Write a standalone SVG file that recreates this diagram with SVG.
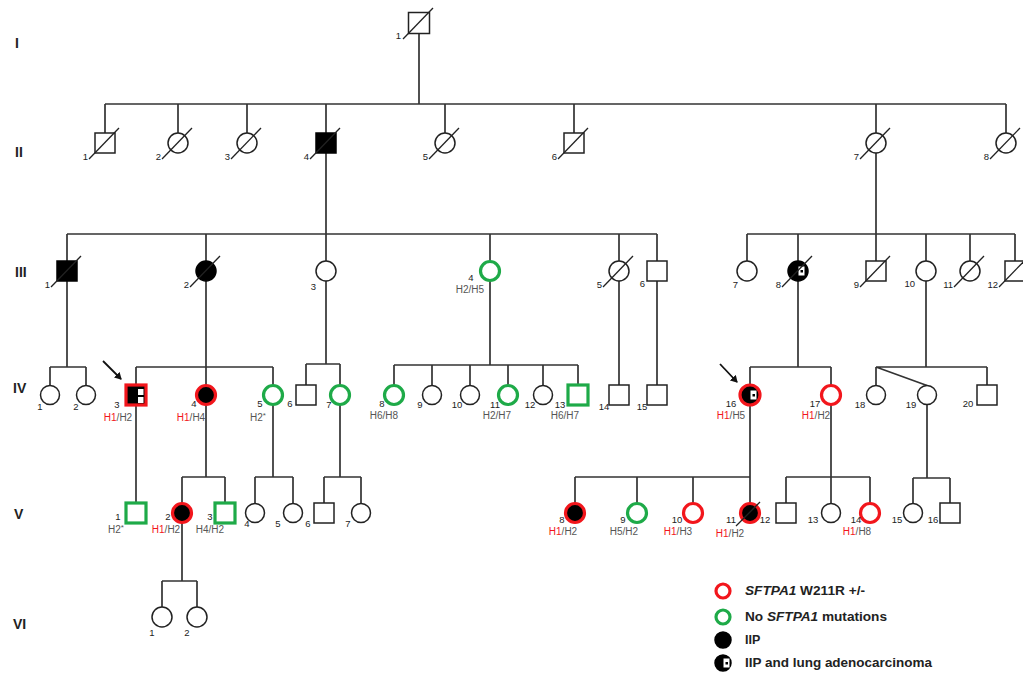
<svg xmlns="http://www.w3.org/2000/svg" width="1023" height="677" viewBox="0 0 1023 677">
<style>
.ln{stroke:#333;stroke-width:1.7;fill:none}
.s{fill:#fff;stroke:#222;stroke-width:1.5}
.a{fill:#000;stroke:#000;stroke-width:1.5}
.r{stroke:#f2161c;stroke-width:3.2}
.g{stroke:#1eaa48;stroke-width:3.2}
.d{stroke:#222;stroke-width:1.3}
text{font-family:"Liberation Sans",Arial,sans-serif}
.n{font-size:9.5px;fill:#222}
.h{font-size:10px;fill:#555;text-anchor:middle}
.h1{fill:#f2161c}
.gen{font-size:14px;font-weight:bold;fill:#222}
.lg{font-size:12.5px;font-weight:bold;fill:#222}
.c{text-anchor:middle}
.e{text-anchor:end}
</style>
<defs>
<marker id="ah" markerWidth="8" markerHeight="8" refX="6" refY="4" orient="auto" markerUnits="userSpaceOnUse">
<path d="M0,0 L7,4 L0,8 Z" fill="#111"/>
</marker>
<g id="lm"><rect x="0.5" y="-4.5" width="6" height="9" fill="#fff"/><rect x="2.5" y="-1" width="2.5" height="2.5" fill="#000"/></g>
</defs>
<rect width="1023" height="677" fill="#fff"/>

<g id="generations">
<text class="gen" x="15" y="48">I</text>
<text class="gen" x="15" y="157">II</text>
<text class="gen" x="15" y="277">III</text>
<text class="gen" x="13" y="393">IV</text>
<text class="gen" x="14" y="519">V</text>
<text class="gen" x="13" y="629">VI</text>
</g>

<g id="connectors" class="ln">
<path d="M419 33.5V104 M105 104H1006 M105 104V133 M178 104V133 M247 104V133 M326 104V133 M445 104V133 M574 104V133 M876 104V133 M1006 104V133"/>
<path d="M326 153V234 M67 234H657 M67 234V261 M206 234V261 M326 234V261 M490 234V261 M619 234V261 M657 234V261"/>
<path d="M876 153V234 M747 234H1015 M747 234V261 M798 234V261 M876 234V261 M926 234V261 M970 234V261 M1015 234V261"/>
<path d="M67 281V367 M50 367H86 M50 367V385.5 M86 367V385.5"/>
<path d="M206 281V385 M136 367H273 M136 367V385 M273 367V385.5"/>
<path d="M326 281V364 M306 364H340 M306 364V385 M340 364V385.5"/>
<path d="M490 281V365 M394 365H578 M394 365V385.5 M432 365V385.5 M470 365V385.5 M508 365V385.5 M543 365V385.5 M578 365V385"/>
<path d="M619 281V385 M657 281V385"/>
<path d="M798 281V367 M750 367H831 M750 367V385 M831 367V385"/>
<path d="M926 281V367 M876 367H987 M876 367V385.5 M987 367V385 M876 367L927 385.5"/>
<path d="M136 405V503"/>
<path d="M206 404.5V477 M182 477H225 M182 477V503 M225 477V503"/>
<path d="M273 404.5V477 M255 477H293 M255 477V503.5 M293 477V503.5"/>
<path d="M340 404.5V477 M324 477H361 M324 477V503 M361 477V503.5"/>
<path d="M750 405V503 M575 477H750 M575 477V503 M637 477V503 M693 477V503"/>
<path d="M831 404.5V503 M786 477H870 M786 477V503 M870 477V503"/>
<path d="M927 404.5V478 M913 478H950 M913 478V503.5 M950 478V503"/>
<path d="M182 523V581 M162 581H197 M162 581V607 M197 581V607"/>
<line x1="103" y1="361" x2="121" y2="379" stroke="#111" stroke-width="1.8" marker-end="url(#ah)"/>
<line x1="720" y1="364" x2="737" y2="382" stroke="#111" stroke-width="1.8" marker-end="url(#ah)"/>
</g>

<g id="I-1"><rect class="s" x="408.5" y="12.5" width="21" height="21"/><line class="d" x1="403" y1="39" x2="433" y2="8"/><text class="n e" x="401" y="39">1</text></g>

<g id="II-1"><rect class="s" x="95" y="133" width="20" height="20"/><line class="d" x1="89" y1="159" x2="119" y2="128"/><text class="n e" x="88" y="160">1</text></g>
<g id="II-2"><circle class="s" cx="178" cy="143" r="10"/><line class="d" x1="162" y1="159" x2="192" y2="128"/><text class="n e" x="161" y="160">2</text></g>
<g id="II-3"><circle class="s" cx="247" cy="143" r="10"/><line class="d" x1="231" y1="159" x2="261" y2="128"/><text class="n e" x="230" y="160">3</text></g>
<g id="II-4"><rect class="a" x="316" y="133" width="20" height="20"/><line class="d" x1="310" y1="159" x2="340" y2="128"/><text class="n e" x="309" y="160">4</text></g>
<g id="II-5"><circle class="s" cx="445" cy="143" r="10"/><line class="d" x1="429" y1="159" x2="459" y2="128"/><text class="n e" x="428" y="160">5</text></g>
<g id="II-6"><rect class="s" x="564" y="133" width="20" height="20"/><line class="d" x1="558" y1="159" x2="588" y2="128"/><text class="n e" x="557" y="160">6</text></g>
<g id="II-7"><circle class="s" cx="876" cy="143" r="10"/><line class="d" x1="860" y1="159" x2="890" y2="128"/><text class="n e" x="859" y="160">7</text></g>
<g id="II-8"><circle class="s" cx="1006" cy="143" r="10"/><line class="d" x1="990" y1="159" x2="1020" y2="128"/><text class="n e" x="989" y="160">8</text></g>

<g id="III-1"><rect class="a" x="57" y="261" width="20" height="20"/><line class="d" x1="51" y1="287" x2="81" y2="256"/><text class="n e" x="50" y="288">1</text></g>
<g id="III-2"><circle class="a" cx="206" cy="271" r="10"/><line class="d" x1="190" y1="287" x2="220" y2="256"/><text class="n e" x="189" y="288">2</text></g>
<g id="III-3"><circle class="s" cx="326" cy="271" r="10"/><text class="n e" x="316" y="290">3</text></g>
<g id="III-4"><circle class="s g" cx="490" cy="271" r="9.5"/><text class="n c" x="471" y="281">4</text><text class="h" x="470" y="293">H2/H5</text></g>
<g id="III-5"><circle class="s" cx="619" cy="271" r="10"/><line class="d" x1="603" y1="287" x2="633" y2="256"/><text class="n e" x="602" y="288">5</text></g>
<g id="III-6"><rect class="s" x="647" y="261" width="20" height="20"/><text class="n e" x="645" y="287">6</text></g>
<g id="III-7"><circle class="s" cx="747" cy="271" r="10"/><text class="n e" x="738" y="288">7</text></g>
<g id="III-8"><circle class="a" cx="798" cy="271" r="10"/><use href="#lm" x="798" y="271"/><line class="d" x1="782" y1="287" x2="812" y2="256"/><text class="n e" x="781" y="288">8</text></g>
<g id="III-9"><rect class="s" x="866" y="261" width="20" height="20"/><line class="d" x1="860" y1="287" x2="890" y2="256"/><text class="n e" x="859" y="288">9</text></g>
<g id="III-10"><circle class="s" cx="926" cy="271" r="10"/><text class="n e" x="915" y="287">10</text></g>
<g id="III-11"><circle class="s" cx="970" cy="271" r="10"/><line class="d" x1="954" y1="287" x2="984" y2="256"/><text class="n e" x="953" y="288">11</text></g>
<g id="III-12"><rect class="s" x="1005" y="261" width="20" height="20"/><line class="d" x1="999" y1="287" x2="1029" y2="256"/><text class="n e" x="998" y="288">12</text></g>

<g id="IV-1"><circle class="s" cx="50" cy="395" r="9.5"/><text class="n c" x="40" y="410">1</text></g>
<g id="IV-2"><circle class="s" cx="86" cy="395" r="9.5"/><text class="n c" x="76" y="410">2</text></g>
<g id="IV-3"><rect class="a r" x="126" y="385" width="20" height="20"/><rect x="138" y="389" width="5.5" height="6" fill="#fff"/><rect x="138" y="397" width="5.5" height="6" fill="#fff"/><text class="n c" x="117" y="408">3</text><text class="h" x="118" y="421"><tspan class="h1">H1</tspan>/H2</text></g>
<g id="IV-4"><circle class="a r" cx="206" cy="395" r="9.5"/><text class="n c" x="194" y="407">4</text><text class="h" x="191" y="421"><tspan class="h1">H1</tspan>/H4</text></g>
<g id="IV-5"><circle class="s g" cx="273" cy="395" r="9.5"/><text class="n c" x="260" y="407">5</text><text class="h" x="258" y="421">H2<tspan font-size="8" dy="-3">*</tspan></text></g>
<g id="IV-6"><rect class="s" x="296" y="385" width="20" height="20"/><text class="n c" x="290" y="407">6</text></g>
<g id="IV-7"><circle class="s g" cx="340" cy="395" r="9.5"/><text class="n c" x="329" y="408">7</text></g>
<g id="IV-8"><circle class="s g" cx="394" cy="395" r="9.5"/><text class="n c" x="382" y="407">8</text><text class="h" x="384" y="419">H6/H8</text></g>
<g id="IV-9"><circle class="s" cx="432" cy="395" r="9.5"/><text class="n c" x="420" y="408">9</text></g>
<g id="IV-10"><circle class="s" cx="470" cy="395" r="9.5"/><text class="n c" x="457" y="408">10</text></g>
<g id="IV-11"><circle class="s g" cx="508" cy="395" r="9.5"/><text class="n c" x="495" y="408">11</text><text class="h" x="497" y="419">H2/H7</text></g>
<g id="IV-12"><circle class="s" cx="543" cy="395" r="9.5"/><text class="n c" x="530" y="408">12</text></g>
<g id="IV-13"><rect class="s g" x="568" y="385" width="20" height="20"/><text class="n c" x="560" y="408">13</text><text class="h" x="565" y="419">H6/H7</text></g>
<g id="IV-14"><rect class="s" x="609" y="385" width="20" height="20"/><text class="n c" x="604" y="410">14</text></g>
<g id="IV-15"><rect class="s" x="647" y="385" width="20" height="20"/><text class="n c" x="642" y="410">15</text></g>
<g id="IV-16"><circle class="a r" cx="750" cy="395" r="10"/><use href="#lm" x="750" y="395"/><text class="n c" x="731" y="407">16</text><text class="h" x="731" y="419"><tspan class="h1">H1</tspan>/H5</text></g>
<g id="IV-17"><circle class="s r" cx="831" cy="395" r="9.5"/><text class="n c" x="815" y="407">17</text><text class="h" x="816" y="419"><tspan class="h1">H1</tspan>/H2</text></g>
<g id="IV-18"><circle class="s" cx="876" cy="395" r="9.5"/><text class="n c" x="860" y="408">18</text></g>
<g id="IV-19"><circle class="s" cx="927" cy="395" r="9.5"/><text class="n c" x="911" y="408">19</text></g>
<g id="IV-20"><rect class="s" x="977" y="385" width="20" height="20"/><text class="n c" x="968" y="407">20</text></g>

<g id="V-1"><rect class="s g" x="126" y="503" width="20" height="20"/><text class="n c" x="118" y="520">1</text><text class="h" x="116" y="533">H2<tspan font-size="8" dy="-3">*</tspan></text></g>
<g id="V-2"><circle class="a r" cx="182" cy="513" r="9.5"/><text class="n c" x="168" y="520">2</text><text class="h" x="166" y="533"><tspan class="h1">H1</tspan>/H2</text></g>
<g id="V-3"><rect class="s g" x="215" y="503" width="20" height="20"/><text class="n c" x="210" y="520">3</text><text class="h" x="210" y="533">H4/H2</text></g>
<g id="V-4"><circle class="s" cx="255" cy="513" r="9.5"/><text class="n c" x="247" y="527">4</text></g>
<g id="V-5"><circle class="s" cx="293" cy="513" r="9.5"/><text class="n c" x="278" y="527">5</text></g>
<g id="V-6"><rect class="s" x="314" y="503" width="20" height="20"/><text class="n c" x="308" y="527">6</text></g>
<g id="V-7"><circle class="s" cx="361" cy="513" r="9.5"/><text class="n c" x="348" y="527">7</text></g>
<g id="V-8"><circle class="a r" cx="575" cy="513" r="9.5"/><text class="n c" x="562" y="523">8</text><text class="h" x="563" y="535"><tspan class="h1">H1</tspan>/H2</text></g>
<g id="V-9"><circle class="s g" cx="637" cy="513" r="9.5"/><text class="n c" x="623" y="523">9</text><text class="h" x="624" y="535">H5/H2</text></g>
<g id="V-10"><circle class="s r" cx="693" cy="513" r="9.5"/><text class="n c" x="677" y="523">10</text><text class="h" x="678" y="535"><tspan class="h1">H1</tspan>/H3</text></g>
<g id="V-11"><circle class="a r" cx="750" cy="513" r="9.5"/><line class="d" x1="736" y1="526" x2="760" y2="502"/><text class="n c" x="731" y="523">11</text><text class="h" x="730" y="537"><tspan class="h1">H1</tspan>/H2</text></g>
<g id="V-12"><rect class="s" x="776" y="503" width="20" height="20"/><text class="n c" x="765" y="523">12</text></g>
<g id="V-13"><circle class="s" cx="831" cy="513" r="9.5"/><text class="n c" x="813" y="523">13</text></g>
<g id="V-14"><circle class="s r" cx="870" cy="513" r="9.5"/><text class="n c" x="856" y="523">14</text><text class="h" x="857" y="535"><tspan class="h1">H1</tspan>/H8</text></g>
<g id="V-15"><circle class="s" cx="913" cy="513" r="9.5"/><text class="n c" x="897" y="523">15</text></g>
<g id="V-16"><rect class="s" x="940" y="503" width="20" height="20"/><text class="n c" x="933" y="523">16</text></g>

<g id="VI-1"><circle class="s" cx="162" cy="617" r="10"/><text class="n c" x="152" y="636">1</text></g>
<g id="VI-2"><circle class="s" cx="197" cy="617" r="10"/><text class="n c" x="187" y="636">2</text></g>

<g id="legend">
<circle class="s r" cx="723" cy="591" r="7" stroke-width="3"/>
<text class="lg" x="745" y="595" textLength="120" lengthAdjust="spacingAndGlyphs"><tspan font-style="italic">SFTPA1</tspan> W211R +/-</text>
<circle class="s g" cx="723" cy="617" r="7" stroke-width="3"/>
<text class="lg" x="745" y="621" textLength="142" lengthAdjust="spacingAndGlyphs">No <tspan font-style="italic">SFTPA1</tspan> mutations</text>
<circle class="a" cx="723" cy="640" r="8"/>
<text class="lg" x="745" y="644">IIP</text>
<circle class="a" cx="723" cy="663" r="8"/><use href="#lm" x="723" y="663"/>
<text class="lg" x="745" y="667" textLength="187" lengthAdjust="spacingAndGlyphs">IIP and lung adenocarcinoma</text>
</g>
</svg>
